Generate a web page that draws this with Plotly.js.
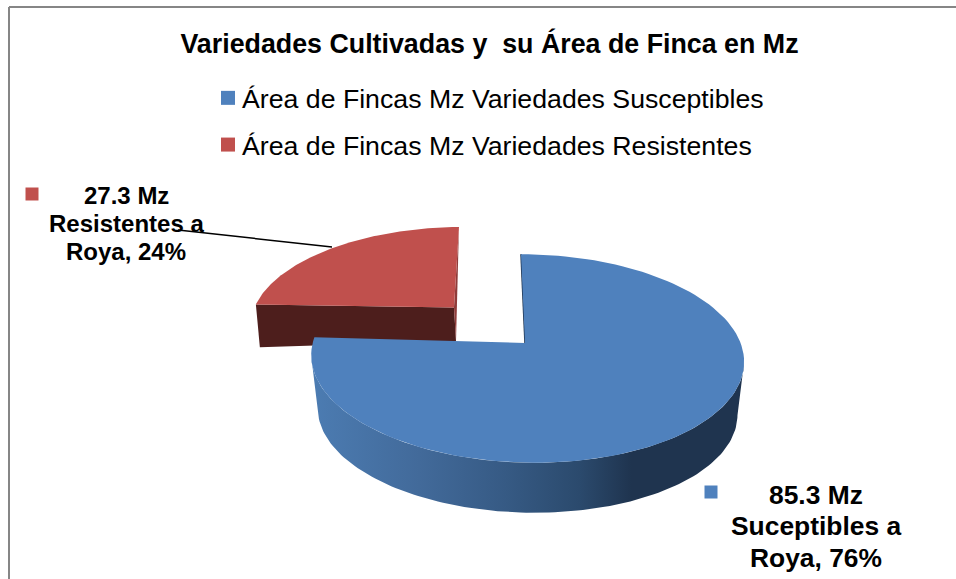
<!DOCTYPE html>
<html>
<head>
<meta charset="utf-8">
<script src="https://cdn.plot.ly/plotly-3.0.1.min.js"></script>
<style>html,body{margin:0;padding:0;background:#fff}</style>
</head>
<body>
<div id="chart" style="width:956px;height:579px"></div>
<script>
// Data
const chartTitle = "Variedades Cultivadas y  su Área de Finca en Mz";
const seriesNames = ["Área de Fincas Mz Variedades Susceptibles", "Área de Fincas Mz Variedades Resistentes"];
const areaValues = [85.3, 27.3];
const blueLabelLines = ["85.3 Mz", "Suceptibles a", "Roya, 76%"];
const redLabelLines = ["27.3 Mz", "Resistentes a", "Roya, 24%"];
const sliceColors = ["#4f81bd", "#c0504d"];

// Projection of the tilted pie onto the hidden pixel-scaled axes
const totalArea = areaValues[0] + areaValues[1];
const blueEndDeg = 360 * areaValues[0] / totalArea;
const K = 0.148;
function project(deg, g) {
  const t = deg * Math.PI / 180, u = Math.sin(t), v = Math.cos(t);
  const w = 1 + K * v + (g.m || 0) * u;
  return [g.x + (g.a * u + g.sx * v) / w, g.y + (g.ty * u - g.b * v) / w];
}
function arc(from, to, g) {
  const pts = [], n = 120;
  for (let i = 0; i <= n; i++) pts.push(project(from + (to - from) * i / n, g));
  return pts;
}
const blueTop = {x: 525, y: 343, a: 214, b: 102, sx: -4.6, ty: 1, m: -0.009};
const blueBot = {x: 525, y: 396.5, a: 207.5, b: 99, sx: -4.6, ty: 1, m: -0.009};
const redTop  = {x: 454, y: 307.5, a: 200, b: 92.4, sx: 5.7, ty: -1.3};
const redBot  = {x: 456, y: 341, a: 198, b: 92.4, sx: 5.7, ty: -10.8};

function poly(pts, extra) {
  return Object.assign({
    x: pts.map(p => p[0]), y: pts.map(p => p[1]),
    mode: "lines", fill: "toself", line: {width: 0},
    hoverinfo: "skip", showlegend: false
  }, extra);
}
function edge(a, b, color, w) {
  return {x: [a[0], b[0]], y: [a[1], b[1]], mode: "lines",
          line: {color: color, width: w}, hoverinfo: "skip", showlegend: false};
}

const redSurface = [[redTop.x, redTop.y]].concat(arc(blueEndDeg, 360, redTop));
const redWall = [project(blueEndDeg, redTop), [redTop.x, redTop.y], [redBot.x, redBot.y], project(blueEndDeg, redBot)];
const blueSurface = [[blueTop.x, blueTop.y]].concat(arc(0, blueEndDeg, blueTop));
const blueWall = arc(100, 262, blueTop).concat(arc(262, 100, blueBot));

const traces = [
  poly(redWall, {fillcolor: "#4d1e1c"}),
  poly([project(360, redTop), [redBot.x, redBot.y], [redTop.x, redTop.y]], {fillcolor: "#8f3c3a"}),
  poly(redSurface, {fillcolor: sliceColors[1]}),
  poly(blueWall, {fillgradient: {type: "horizontal", colorscale: [
    [0, "#4c7cb2"], [0.25, "#426a9a"], [0.45, "#365a84"], [0.62, "#2b4a6d"], [0.74, "#1f344f"], [1, "#1f344f"]
  ]}}),
  edge(project(0, blueTop), [blueTop.x, blueTop.y], "#1f344f", 1.5),
  poly(blueSurface, {fillcolor: sliceColors[0]}),
  // legend keys
  {x: [null], y: [null], name: seriesNames[0], legendgroup: "a", mode: "markers",
   marker: {symbol: "square", size: 14, color: sliceColors[0]}},
  {x: [null], y: [null], name: seriesNames[1], legendgroup: "b", mode: "markers",
   marker: {symbol: "square", size: 14, color: sliceColors[1]}},
  // data-label keys
  {x: [711, 32], y: [492, 194], mode: "markers", showlegend: false, hoverinfo: "skip",
   marker: {symbol: "square", size: 13, color: sliceColors}},
  edge([178, 230], [332, 247], "#000000", 1.5)
];

function labelAnnotations(lines, cx, ys, size) {
  return lines.map((line, i) => ({
    x: cx, y: ys[i], xref: "x", yref: "y", text: "<b>" + line + "</b>",
    showarrow: false, align: "center", font: {size: size, color: "#000000"}
  }));
}

const layout = {
  width: 956, height: 579,
  margin: {l: 0, r: 0, t: 0, b: 0},
  paper_bgcolor: "#ffffff", plot_bgcolor: "#ffffff",
  font: {family: "Liberation Sans, Arial, sans-serif", color: "#000000"},
  title: {text: "<b>" + chartTitle + "</b>", x: 489.5 / 956, xanchor: "center", y: 1 - 44 / 579, yanchor: "middle",
          font: {size: 26.8, color: "#000000"}},
  xaxis: {range: [0, 956], visible: false, fixedrange: true},
  yaxis: {range: [579, 0], visible: false, fixedrange: true},
  showlegend: true,
  legend: {x: 202 / 956, xanchor: "left", y: 1 - 74 / 579, yanchor: "top",
           font: {size: 26.7, color: "#000000"}, tracegroupgap: 9, bgcolor: "rgba(0,0,0,0)",
           itemclick: false, itemdoubleclick: false},
  annotations: labelAnnotations(blueLabelLines, 816, [495, 526, 558], 26.4)
    .concat(labelAnnotations(redLabelLines, 126, [195, 223, 251], 24)),
  shapes: [
    {type: "line", xref: "x", yref: "y", x0: 9, y0: 7, x1: 956, y1: 7, line: {color: "#868686", width: 2}},
    {type: "line", xref: "x", yref: "y", x0: 9, y0: 7, x1: 9, y1: 579, line: {color: "#868686", width: 2}}
  ]
};

Plotly.newPlot("chart", traces, layout, {displayModeBar: false}).then(gd => {
  gd.querySelectorAll(".legendsymbols").forEach(s => s.setAttribute("transform", "translate(6,0)"));
});
</script>
</body>
</html>
